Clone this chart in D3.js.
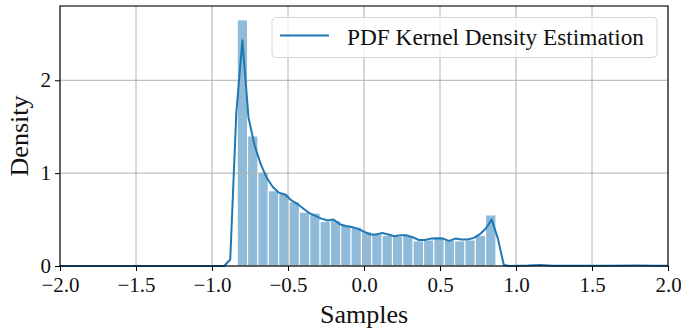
<!DOCTYPE html>
<meta charset="utf-8" />
<style>
  body { margin: 0; background: white; overflow: hidden; }
  svg { font-family: "Liberation Serif", "Times New Roman", serif; }
</style>
<body>
<svg id="chart"></svg>
<script src="https://cdnjs.cloudflare.com/ajax/libs/d3/7.8.5/d3.min.js"></script>
<script>
  // histogram bin edges and normalised heights
  var binEdges = [-0.834, -0.766, -0.698, -0.630, -0.561, -0.493, -0.425, -0.357, -0.289,
    -0.221, -0.153, -0.085, -0.017, 0.051, 0.119, 0.187, 0.255, 0.323, 0.392, 0.460,
    0.528, 0.596, 0.664, 0.732, 0.800, 0.868];
  var barHeights = [2.65, 1.40, 1.01, 0.81, 0.78, 0.69, 0.58, 0.57, 0.48, 0.49, 0.44, 0.42,
    0.37, 0.34, 0.33, 0.32, 0.33, 0.27, 0.28, 0.31, 0.28, 0.27, 0.28, 0.33, 0.55];

  // kernel density estimate
  var kdeX = [-2.0, -0.92, -0.88, -0.84, -0.80, -0.76, -0.72, -0.68, -0.64, -0.60, -0.56,
    -0.52, -0.48, -0.44, -0.40, -0.36, -0.32, -0.28, -0.24, -0.20, -0.16, -0.12, -0.08,
    -0.04, 0.00, 0.04, 0.08, 0.12, 0.16, 0.20, 0.24, 0.28, 0.32, 0.36, 0.40, 0.44, 0.48,
    0.52, 0.56, 0.60, 0.64, 0.68, 0.72, 0.76, 0.80, 0.84, 0.88, 0.92, 0.96, 1.08, 1.16,
    1.24, 1.40, 1.60, 1.80, 1.92, 2.0];
  var kdeY = [0, 0, 0.07, 1.65, 2.43, 1.60, 1.30, 1.10, 0.95, 0.85, 0.79,
    0.77, 0.71, 0.67, 0.62, 0.57, 0.54, 0.51, 0.49, 0.50, 0.45, 0.43, 0.42,
    0.40, 0.37, 0.34, 0.34, 0.355, 0.34, 0.32, 0.33, 0.33, 0.31, 0.28, 0.28, 0.295, 0.30,
    0.295, 0.27, 0.295, 0.285, 0.285, 0.30, 0.34, 0.40, 0.50, 0.30, 0.01, 0, 0.005, 0.012,
    0.004, 0.002, 0.004, 0.006, 0.003, 0.002];

  var xTicks = [-2.0, -1.5, -1.0, -0.5, 0.0, 0.5, 1.0, 1.5, 2.0];
  var yTicks = [0, 1, 2];
  var legendLabel = "PDF Kernel Density Estimation";

  var width = 681, height = 329;
  var m = {left: 60, right: 13, top: 6, bottom: 63};
  var blue = "#1f77b4";

  var svg = d3.select("#chart").attr("width", width).attr("height", height);

  var x = d3.scaleLinear().domain([-2, 2]).range([m.left, width - m.right]);
  var y = d3.scaleLinear().domain([0, 2.8]).range([height - m.bottom, m.top]);

  // bars
  svg.append("g").selectAll("rect")
    .data(barHeights)
    .enter().append("rect")
    .attr("x", (d, i) => x(binEdges[i]))
    .attr("width", (d, i) => x(binEdges[i + 1]) - x(binEdges[i]))
    .attr("y", d => y(d))
    .attr("height", d => y(0) - y(d))
    .attr("fill", blue)
    .attr("fill-opacity", 0.5)
    .attr("stroke", "white")
    .attr("stroke-width", 1);

  // grid (drawn over bars like matplotlib)
  var grid = svg.append("g").attr("stroke", "#b0b0b0").attr("stroke-width", 1);
  grid.selectAll(".gx").data(xTicks).enter().append("line")
    .attr("x1", d => x(d)).attr("x2", d => x(d))
    .attr("y1", y(0)).attr("y2", y(2.8));
  grid.selectAll(".gy").data(yTicks).enter().append("line")
    .attr("x1", x(-2)).attr("x2", x(2))
    .attr("y1", d => y(d)).attr("y2", d => y(d));

  // kde line
  var line = d3.line().x((d, i) => x(kdeX[i])).y(d => y(d));
  svg.append("path")
    .datum(kdeY)
    .attr("d", line)
    .attr("fill", "none")
    .attr("stroke", blue)
    .attr("stroke-width", 2)
    .attr("stroke-linejoin", "round");

  // axes
  var fmtX = d => d3.format(".1f")(d).replace("-", "\u2212");
  var xAxis = svg.append("g")
    .attr("transform", "translate(0," + y(0) + ")")
    .call(d3.axisBottom(x).tickValues(xTicks).tickFormat(fmtX).tickSizeOuter(0).tickSize(5).tickPadding(6));
  var yAxis = svg.append("g")
    .attr("transform", "translate(" + x(-2) + ",0)")
    .call(d3.axisLeft(y).tickValues(yTicks).tickFormat(d3.format("d")).tickSizeOuter(0).tickSize(5).tickPadding(4));

  [xAxis, yAxis].forEach(function(a) {
    a.select(".domain").remove();
    a.selectAll(".tick line").attr("stroke", "black").attr("stroke-width", 1);
    a.selectAll(".tick text")
      .attr("fill", "#111")
      .style("font-family", "Liberation Serif, serif")
      .style("font-size", "21px");
  });
  yAxis.selectAll(".tick text").attr("dy", "0.3em");

  // frame
  svg.append("rect")
    .attr("x", x(-2)).attr("y", y(2.8))
    .attr("width", x(2) - x(-2)).attr("height", y(0) - y(2.8))
    .attr("fill", "none").attr("stroke", "black").attr("stroke-width", 1.1);

  // axis labels
  svg.append("text")
    .attr("x", (x(-2) + x(2)) / 2).attr("y", 323)
    .attr("text-anchor", "middle")
    .style("font-size", "26px").attr("fill", "#111")
    .text("Samples");
  svg.append("text")
    .attr("transform", "translate(28," + ((y(0) + y(2.8)) / 2) + ") rotate(-90)")
    .attr("text-anchor", "middle")
    .style("font-size", "26px").attr("fill", "#111")
    .text("Density");

  // legend
  var lg = svg.append("g");
  lg.append("rect")
    .attr("x", 272).attr("y", 17.5).attr("width", 385).attr("height", 40)
    .attr("rx", 4)
    .attr("fill", "white").attr("fill-opacity", 0.8)
    .attr("stroke", "#d6d6d6").attr("stroke-width", 1);
  lg.append("line")
    .attr("x1", 280).attr("x2", 329).attr("y1", 35.5).attr("y2", 35.5)
    .attr("stroke", blue).attr("stroke-width", 2);
  lg.append("text")
    .attr("x", 347).attr("y", 44.5)
    .attr("textLength", 297).attr("lengthAdjust", "spacingAndGlyphs")
    .style("font-size", "23px").attr("fill", "#111")
    .text(legendLabel);
</script>
</body>
